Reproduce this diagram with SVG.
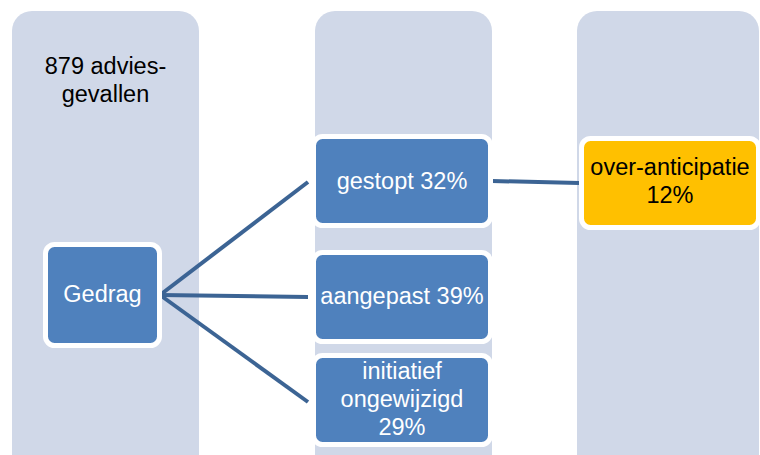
<svg xmlns="http://www.w3.org/2000/svg" width="760" height="455" viewBox="0 0 760 455">
<style>
.col{fill:#d0d8e8}
.box{fill:#4f81bd;stroke:#ffffff;stroke-width:5}
.hl{fill:#ffc000;stroke:#ffffff;stroke-width:5}
.t{font-family:"Liberation Sans",Arial,sans-serif;font-size:23.5px;text-anchor:middle}
.w{fill:#ffffff}
.k{fill:#000000}
.c{stroke:#3c6494;stroke-width:4;fill:none;stroke-linecap:butt}
</style>
<rect width="760" height="455" fill="#ffffff"/>
<g id="column1"><rect class="col" x="12" y="11" width="187" height="480" rx="20"/>
<text class="t k" x="105.5" y="74">879 advies-</text><text class="t k" x="105.5" y="102">gevallen</text></g>
<g id="column2"><rect class="col" x="315" y="11" width="177" height="480" rx="20"/></g>
<g id="column3"><rect class="col" x="577" y="11" width="182" height="480" rx="20"/></g>
<g id="connectors">
<line class="c" x1="160" y1="295" x2="308" y2="182"/>
<line class="c" x1="160" y1="295" x2="308" y2="297"/>
<line class="c" x1="160" y1="295" x2="308" y2="402"/>
<line class="c" x1="492" y1="181" x2="579" y2="183"/>
</g>
<g id="gedrag"><rect class="box" x="45.5" y="244.5" width="114" height="101" rx="9"/>
<text class="t w" x="102.5" y="302">Gedrag</text></g>
<g id="gestopt"><rect class="box" x="313.5" y="136.5" width="177" height="89" rx="9"/>
<text class="t w" x="402" y="189">gestopt 32%</text></g>
<g id="aangepast"><rect class="box" x="313.5" y="252.5" width="177" height="89" rx="9"/>
<text class="t w" x="402" y="304">aangepast 39%</text></g>
<g id="initiatief"><rect class="box" x="313.5" y="355.5" width="177" height="89" rx="9"/>
<text class="t w" x="402" y="379">initiatief</text><text class="t w" x="402" y="407">ongewijzigd</text><text class="t w" x="402" y="435">29%</text></g>
<g id="overanticipatie"><rect class="hl" x="581.5" y="138.5" width="177" height="89" rx="9"/>
<text class="t k" x="670" y="175">over-anticipatie</text><text class="t k" x="670" y="203">12%</text></g>
</svg>
